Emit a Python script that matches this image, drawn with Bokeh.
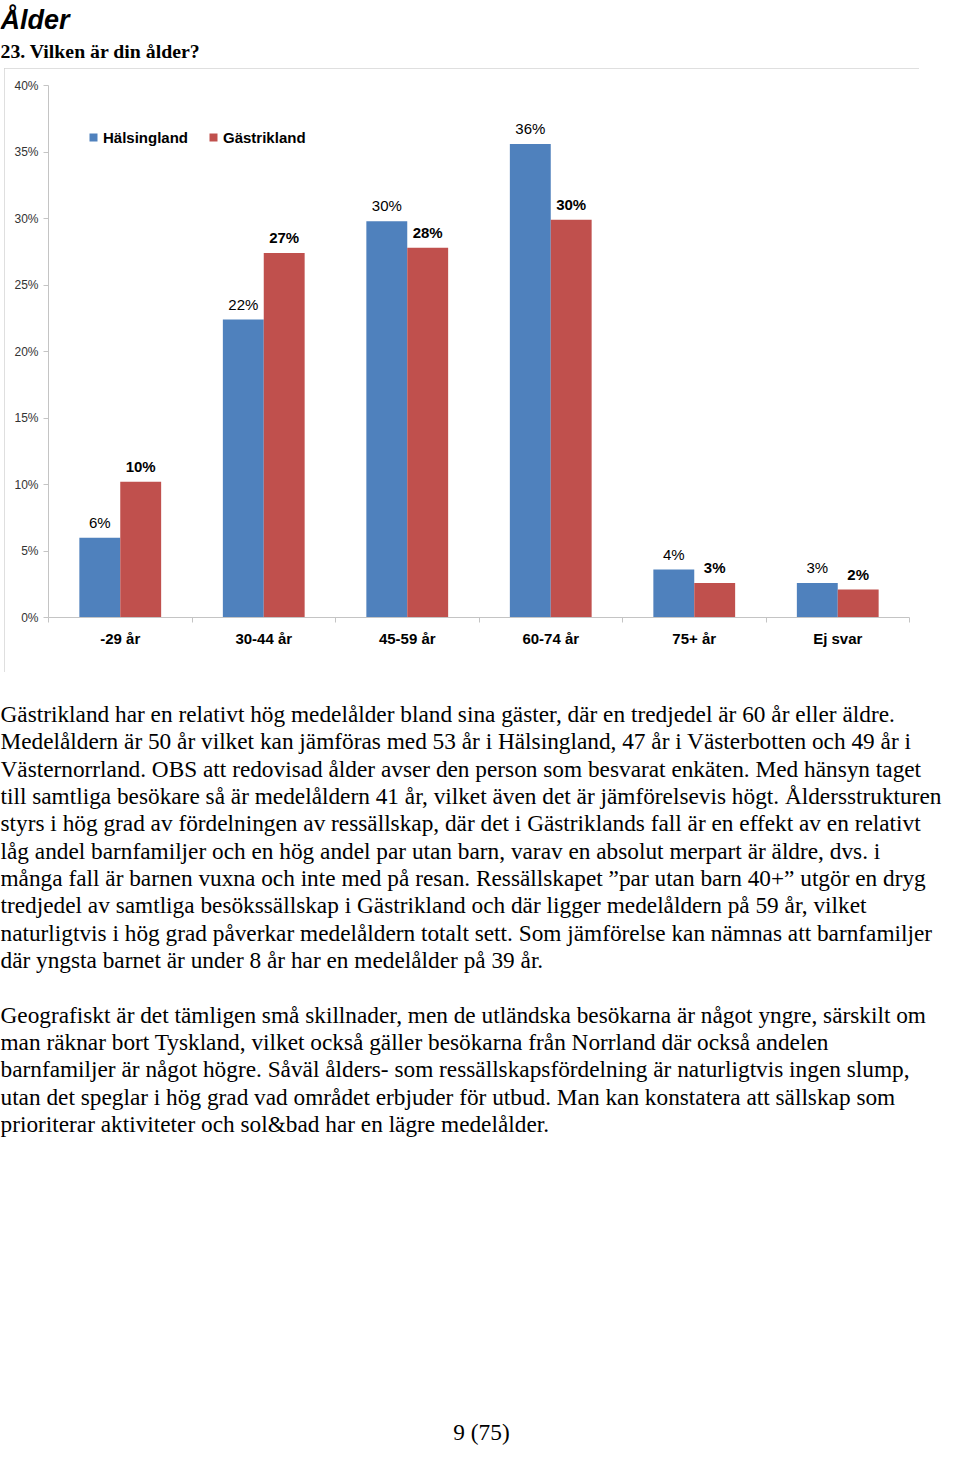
import numpy as np
from bokeh.plotting import figure
from bokeh.layouts import column, row
from bokeh.models import (Range1d, FixedTicker, PrintfTickFormatter, Legend,
                          LegendItem, ColumnDataSource, Spacer)
from bokeh.core.properties import value
from bokeh.embed import file_html
from bokeh.resources import INLINE

# ---------------- data ----------------
categories = ["-29 år", "30-44 år", "45-59 år", "60-74 år", "75+ år", "Ej svar"]
series_names = ["Hälsingland", "Gästrikland"]
halsingland = [6.0, 22.4, 29.8, 35.6, 3.6, 2.6]
gastrikland = [10.2, 27.4, 27.8, 29.9, 2.6, 2.1]
y_ticks = [0, 5, 10, 15, 20, 25, 30, 35, 40]

page_title = "Ålder"
question = "23. Vilken är din ålder?"
paragraph1 = [
    "Gästrikland har en relativt hög medelålder bland sina gäster, där en tredjedel är 60 år eller äldre.",
    "Medelåldern är 50 år vilket kan jämföras med 53 år i Hälsingland, 47 år i Västerbotten och 49 år i",
    "Västernorrland. OBS att redovisad ålder avser den person som besvarat enkäten. Med hänsyn taget",
    "till samtliga besökare så är medelåldern 41 år, vilket även det är jämförelsevis högt. Åldersstrukturen",
    "styrs i hög grad av fördelningen av ressällskap, där det i Gästriklands fall är en effekt av en relativt",
    "låg andel barnfamiljer och en hög andel par utan barn, varav en absolut merpart är äldre, dvs. i",
    "många fall är barnen vuxna och inte med på resan. Ressällskapet \u201dpar utan barn 40+\u201d utgör en dryg",
    "tredjedel av samtliga besökssällskap i Gästrikland och där ligger medelåldern på 59 år, vilket",
    "naturligtvis i hög grad påverkar medelåldern totalt sett. Som jämförelse kan nämnas att barnfamiljer",
    "där yngsta barnet är under 8 år har en medelålder på 39 år.",
]
paragraph2 = [
    "Geografiskt är det tämligen små skillnader, men de utländska besökarna är något yngre, särskilt om",
    "man räknar bort Tyskland, vilket också gäller besökarna från Norrland där också andelen",
    "barnfamiljer är något högre. Såväl ålders- som ressällskapsfördelning är naturligtvis ingen slump,",
    "utan det speglar i hög grad vad området erbjuder för utbud. Man kan konstatera att sällskap som",
    "prioriterar aktiviteter och sol&bad har en lägre medelålder.",
]
page_number = "9 (75)"

# ---------------- styles ----------------
BLUE = "#4F81BD"
RED = "#C0504D"
AXIS = "#C4C4C4"
SANS = "Liberation Sans"
SERIF = "Liberation Serif"
PAGE_W = 944
BODY_PX = 23.3
TITLE_H, CHART_H = 68, 604
TXT_H = 1445 - TITLE_H - CHART_H
MID_SERIF = 0.3375   # baseline -> middle of em box (serif)
MID_SANS = 0.3465    # baseline -> middle of em box (sans)

# ---------------- title block ----------------
t = figure(width=PAGE_W, height=TITLE_H, x_range=Range1d(0, PAGE_W), y_range=Range1d(TITLE_H, 0),
           x_axis_type=None, y_axis_type=None, output_backend="svg", toolbar_location=None,
           min_border=0, frame_align=False)
t.outline_line_color = None
t.grid.visible = False
t.text(x=[0], y=[29 - MID_SANS * 27], text=[page_title], text_font=value(SANS),
       text_font_style="bold italic", text_font_size="27px", text_baseline="middle",
       text_color="black")
t.text(x=[0], y=[57.5 - MID_SERIF * 19.8], text=[question], text_font=value(SERIF),
       text_font_style="bold", text_font_size="19.8px", text_baseline="middle",
       text_color="black")

# ---------------- chart ----------------
n = len(categories)
idx = np.arange(n)
bar_w = 0.285
src = ColumnDataSource(dict(
    xb=idx + 0.5 - bar_w / 2,
    xr=idx + 0.5 + bar_w / 2,
    h=halsingland,
    g=gastrikland,
    hl=[f"{v:.0f}%" for v in halsingland],
    gl=[f"{v:.0f}%" for v in gastrikland],
))

p = figure(width=915, height=CHART_H, x_range=Range1d(0, n), y_range=Range1d(0, 40),
           output_backend="svg", toolbar_location=None, frame_align=False,
           min_border_left=44, min_border_right=10, min_border_top=17, min_border_bottom=55)
p.styles = {"outline": "1px solid #D4D4D4", "outline-offset": "-1px"}
p.outline_line_color = None
p.xgrid.visible = False
p.ygrid.visible = False

r1 = p.vbar(x="xb", top="h", width=bar_w, bottom=0, fill_color=BLUE, line_color=None, source=src)
r2 = p.vbar(x="xr", top="g", width=bar_w, bottom=0, fill_color=RED, line_color=None, source=src)

LBL_OFF = -10 - MID_SANS * 15
p.text(x="xb", y="h", text="hl", source=src, text_align="center", text_baseline="middle",
       y_offset=LBL_OFF, text_font=value(SANS), text_font_size="15px", text_color="black")
p.text(x="xr", y="g", text="gl", source=src, text_align="center", text_baseline="middle",
       y_offset=LBL_OFF, text_font=value(SANS), text_font_size="15px", text_font_style="bold",
       text_color="black")

xa = p.xaxis[0]
xa.ticker = FixedTicker(ticks=list(idx + 0.5), minor_ticks=list(range(n + 1)))
xa.major_label_overrides = {float(i + 0.5): c for i, c in enumerate(categories)}
xa.major_tick_in = 0
xa.major_tick_out = 0
xa.minor_tick_in = 0
xa.minor_tick_out = 5
xa.minor_tick_line_color = AXIS
xa.axis_line_color = AXIS
xa.major_label_standoff = 7
xa.major_label_text_font = SANS
xa.major_label_text_font_size = "15px"
xa.major_label_text_font_style = "bold"
xa.major_label_text_color = "black"

ya = p.yaxis[0]
ya.ticker = FixedTicker(ticks=y_ticks)
ya.formatter = PrintfTickFormatter(format="%d%%")
ya.major_tick_in = 0
ya.major_tick_out = 5
ya.minor_tick_line_color = None
ya.major_tick_line_color = AXIS
ya.axis_line_color = AXIS
ya.major_label_standoff = 5
ya.major_label_text_font = SANS
ya.major_label_text_font_size = "12px"
ya.major_label_text_color = "#333333"

legend = Legend(items=[LegendItem(label=series_names[0], renderers=[r1]),
                       LegendItem(label=series_names[1], renderers=[r2])],
                orientation="horizontal", location=(40, 470),
                border_line_color=None, background_fill_alpha=0,
                padding=0, margin=0, spacing=20, label_standoff=5,
                glyph_width=10, glyph_height=10, label_height=20,
                label_text_font=SANS, label_text_font_size="15px",
                label_text_font_style="bold", label_text_color="black")
p.add_layout(legend)

chart = row(Spacer(width=4, height=CHART_H), p, spacing=0)

# ---------------- body text ----------------
b = figure(width=PAGE_W, height=TXT_H, x_range=Range1d(0, PAGE_W), y_range=Range1d(TXT_H, 0),
           x_axis_type=None, y_axis_type=None, output_backend="svg", toolbar_location=None,
           min_border=0, frame_align=False)
b.outline_line_color = None
b.grid.visible = False

mid = MID_SERIF * BODY_PX
p1_y = [49.3 + 27.33 * i - mid for i in range(len(paragraph1))]
p2_y = [350.3 + 27.25 * i - mid for i in range(len(paragraph2))]
b.text(x=[0] * len(paragraph1), y=p1_y, text=paragraph1, text_font=value(SERIF),
       text_font_size=f"{BODY_PX}px", text_baseline="middle", text_color="black")
b.text(x=[0] * len(paragraph2), y=p2_y, text=paragraph2, text_font=value(SERIF),
       text_font_size=f"{BODY_PX}px", text_baseline="middle", text_color="black")
b.text(x=[481], y=[TXT_H - 14], text=[page_number], text_font=value(SERIF),
       text_font_size=f"{BODY_PX}px", text_align="center", text_baseline="middle",
       text_color="black")

layout = column(t, chart, b, spacing=0)
open("out.html", "w").write(file_html(layout, INLINE))
